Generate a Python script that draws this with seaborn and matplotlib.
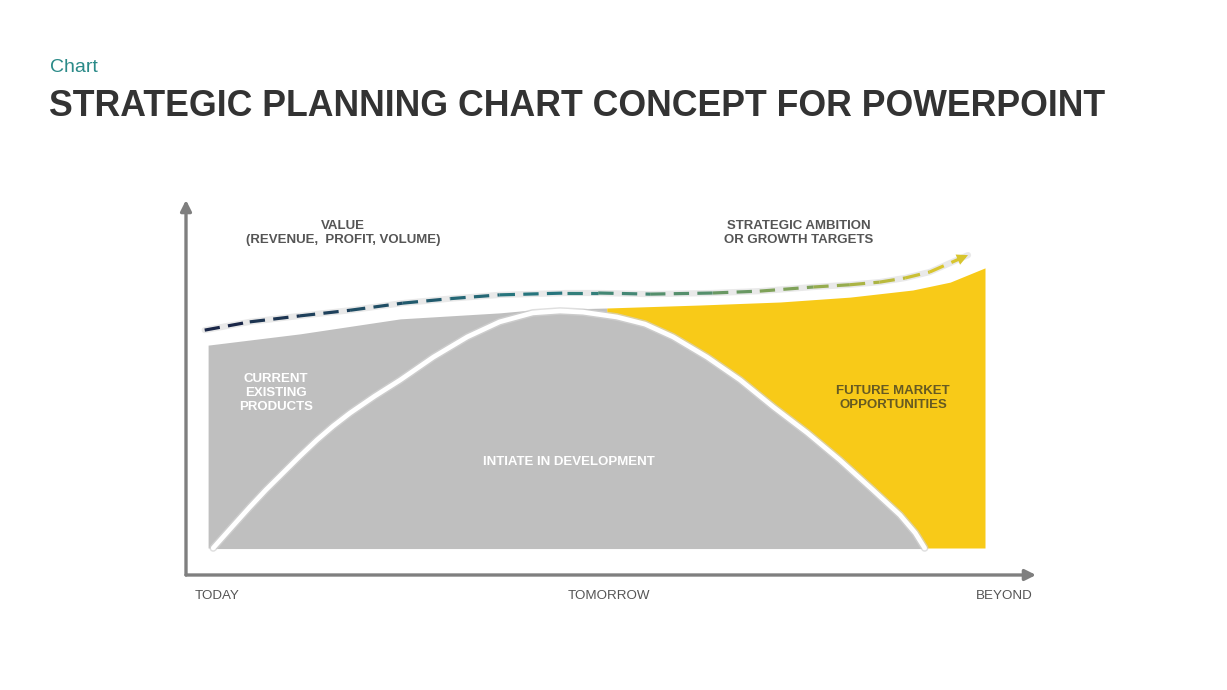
import numpy as np
import matplotlib
matplotlib.use("Agg")
import matplotlib.pyplot as plt
import seaborn as sns
from matplotlib.collections import LineCollection
from matplotlib.colors import LinearSegmentedColormap

# ===============================
# DATA (time 0-100, value 0-100)
# ===============================

# outer envelope of the market (top edge of grey + yellow areas)
env_t = [2.6, 13.4, 25.2, 36.9, 40.8, 49.5, 60.5, 69.9, 78.1, 85.5, 89.9, 94.0]
env_v = [61.3, 64.3, 68.3, 69.9, 70.7, 71.2, 72.0, 72.8, 74.1, 76.0, 78.1, 81.9]
split_idx = 5  # grey up to here, yellow from here
baseline = 7.2

# development life-cycle bell
bell_t = [3.2, 5.4, 7.5, 9.4, 11.4, 13.4, 15.4, 17.3, 19.3, 22.2, 25.2, 29.1,
          33.1, 36.9, 40.8, 44.0, 46.7, 50.7, 54.0, 57.3, 61.3, 65.2, 69.1,
          73.1, 76.9, 80.8, 84.0, 85.8, 86.9]
bell_v = [7.2, 12.8, 18.1, 22.7, 27.2, 31.7, 36.0, 39.7, 43.2, 47.7, 52.0, 58.1,
          63.5, 67.5, 69.9, 70.4, 70.1, 68.8, 66.9, 63.5, 58.1, 52.0, 44.8,
          37.9, 30.7, 22.7, 16.0, 11.2, 7.2]

# strategic ambition dashed line
dash_t = [2.2, 7.5, 13.4, 19.3, 25.5, 31.1, 36.9, 44.8, 48.5, 54.6, 62.0, 67.5,
          73.8, 78.1, 81.6, 84.6, 87.5, 92.0]
dash_v = [65.3, 67.5, 69.1, 70.6, 72.5, 73.7, 74.7, 75.2, 75.2, 74.9, 75.2, 75.7,
          76.8, 77.4, 78.1, 79.2, 80.8, 85.3]
dash_colors = ["#1b2748", "#1f4f66", "#287a80", "#5f9468", "#a7b346", "#d8c52e"]

# labels
x_labels = ["TODAY", "TOMORROW", "BEYOND"]
x_label_pos = [1.06, 49.8, 99.6]

GREY = "#bfbfbf"
YELLOW = "#f8ca18"
AXIS_GREY = "#7f7f7f"

# ===============================
# FIGURE
# ===============================

sns.set_theme(style="white")
plt.rcParams["font.family"] = ["Liberation Sans", "DejaVu Sans"]

fig = plt.figure(figsize=(12.27, 6.9), dpi=100)
fig.patch.set_facecolor("white")
ax = fig.add_axes([186 / 1227, 115 / 690, 850 / 1227, 375 / 690])
ax.set_xlim(0, 100)
ax.set_ylim(0, 100)
ax.axis("off")

env_t = np.array(env_t)
env_v = np.array(env_v)

# grey current products area
ax.fill_between(env_t[:split_idx + 1], baseline, env_v[:split_idx + 1],
                color=GREY, lw=0, zorder=1)
# yellow future market area
ax.fill_between(env_t[split_idx:], baseline, env_v[split_idx:],
                color=YELLOW, lw=0, zorder=1)
# bell (development)
ax.fill_between(bell_t, baseline, bell_v, facecolor=GREY, edgecolor=GREY,
                lw=0.8, zorder=2)

# bell outline with soft shadow
sns.lineplot(x=bell_t, y=bell_v, ax=ax, color="#d2d2d2", lw=5.5, sort=False,
             zorder=3, alpha=0.7)
sns.lineplot(x=bell_t, y=bell_v, ax=ax, color="white", lw=3.4, sort=False,
             zorder=4)

# dashed ambition line with gradient colour
sns.lineplot(x=dash_t, y=dash_v, ax=ax, color="#e9e9e9", lw=4.5, sort=False,
             zorder=5)
cmap = LinearSegmentedColormap.from_list("ambition", dash_colors)
pts = np.column_stack([dash_t, dash_v])
segs = np.stack([pts[:-1], pts[1:]], axis=1)
seg_c = np.linspace(0, 1, len(segs))
lc = LineCollection(segs, colors=cmap(seg_c), linewidths=2.3,
                    linestyles=(0, (4.8, 2.6)), zorder=6, capstyle="butt")
ax.add_collection(lc)
ax.annotate("", xy=(dash_t[-1], dash_v[-1]), xytext=(dash_t[-2], dash_v[-2]),
            arrowprops=dict(arrowstyle="-|>", color=dash_colors[-1], lw=0,
                            mutation_scale=20, shrinkA=0, shrinkB=0),
            zorder=7)

# axes arrows
ax.annotate("", xy=(100, 0), xytext=(0, 0), annotation_clip=False,
            arrowprops=dict(arrowstyle="-|>", color=AXIS_GREY, lw=2.4,
                            mutation_scale=16, shrinkA=0, shrinkB=0))
ax.annotate("", xy=(0, 100), xytext=(0, 0), annotation_clip=False,
            arrowprops=dict(arrowstyle="-|>", color=AXIS_GREY, lw=2.4,
                            mutation_scale=16, shrinkA=0, shrinkB=0))

# x labels
for lab, pos, ha in zip(x_labels, x_label_pos, ["left", "center", "right"]):
    ax.text(pos, -5.6, lab, ha=ha, va="center", fontsize=9.6, color="#555555",
            clip_on=False)

# annotations
ax.text(18.5, 91.3, "VALUE\n(REVENUE,  PROFIT, VOLUME)", ha="center",
        va="center", fontsize=9.5, color="#555555", fontweight="bold",
        linespacing=1.25)
ax.text(72.1, 91.3, "STRATEGIC AMBITION\nOR GROWTH TARGETS", ha="center",
        va="center", fontsize=9.5, color="#555555", fontweight="bold",
        linespacing=1.25)
ax.text(10.6, 48.5, "CURRENT\nEXISTING\nPRODUCTS", ha="center", va="center",
        fontsize=9.5, color="white", fontweight="bold", linespacing=1.2)
ax.text(45.1, 30.1, "INTIATE IN DEVELOPMENT", ha="center", va="center",
        fontsize=9.5, color="white", fontweight="bold")
ax.text(83.2, 47.2, "FUTURE MARKET\nOPPORTUNITIES", ha="center", va="center",
        fontsize=9.5, color="#665a22", fontweight="bold", linespacing=1.25)

# titles
fig.text(50 / 1227, 1 - 68 / 690, "Chart", ha="left", va="center",
         fontsize=14, color="#2a8a88")
fig.text(49 / 1227, 1 - 106 / 690,
         "STRATEGIC PLANNING CHART CONCEPT FOR POWERPOINT", ha="left",
         va="center", fontsize=25.7, fontweight="bold", color="#333333")

fig.savefig("out.png", dpi=100, facecolor="white")
